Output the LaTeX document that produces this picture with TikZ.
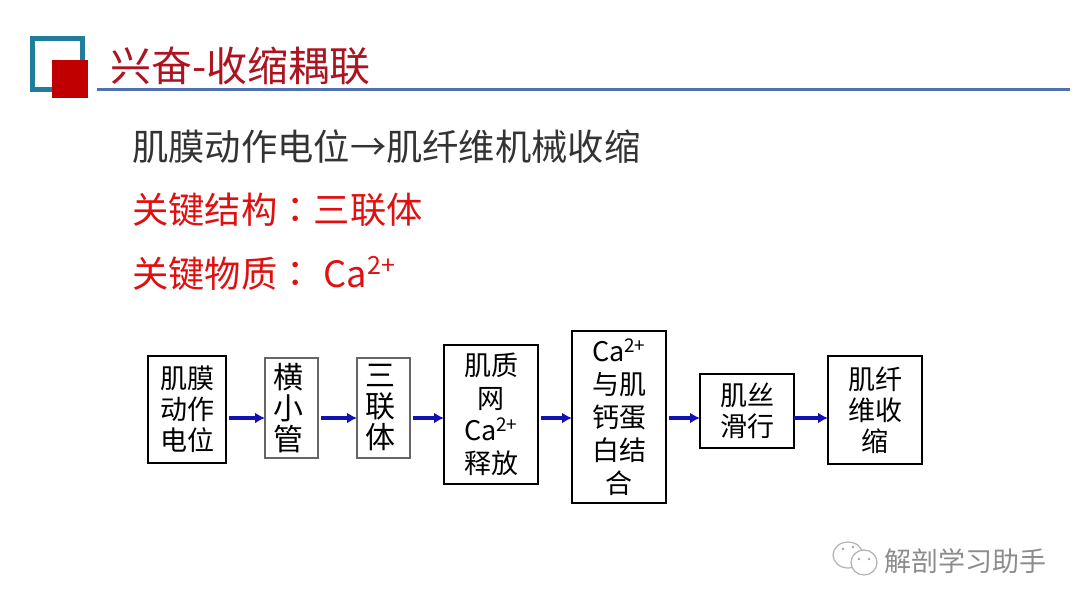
\documentclass[tikz,border=0pt]{standalone}
\usepackage{fontspec}
\setmainfont{Noto Sans CJK SC}
\newfontfamily\colonfont{Noto Sans CJK TC}
\usetikzlibrary{arrows.meta,positioning}
\definecolor{tealframe}{HTML}{1F7F9A}
\definecolor{darkred}{HTML}{C00000}
\definecolor{titlered}{HTML}{AC1420}
\definecolor{rulefblue}{HTML}{4F71B0}
\definecolor{arrblue}{HTML}{1212B4}
\definecolor{bodyred}{HTML}{E01010}
\begin{document}
\begin{tikzpicture}[
x=1pt, y=-1pt,
box/.style={draw, line width=2pt, inner sep=0pt, outer sep=0pt, align=center, font=\fontsize{27}{31}\selectfont},
greybox/.style={box, draw=black!60, font=\fontsize{30}{31}\selectfont},
arr/.style={-{Latex[length=10pt,width=11pt]}, line width=3.5pt, arrblue, shorten <=3pt},
line/.style={anchor=west, inner sep=0pt, font=\fontsize{36.3}{40}\selectfont}
]
\useasboundingbox (0,0) rectangle (1080,608);
% header
\draw[tealframe, line width=4.5pt] (32.5,38.5) rectangle (82.5,89.5);
\fill[darkred] (52,60) rectangle (88,98);
\node[anchor=west, inner sep=0pt, text=titlered, font=\fontsize{41}{44}\selectfont] (title) at (110,66) {兴奋-收缩耦联};
\coordinate (rulea) at (97,89);
\coordinate (ruleb) at (1070,89);
\draw[rulefblue, line width=3pt] (rulea)--(ruleb);
% text lines
\node[line, text=black!80] (line1) at (132,147) {肌膜动作电位→肌纤维机械收缩};
\node[line, text=bodyred] (line2) at (132,210) {关键结构{\colonfont ：}三联体};
\node[line, text=bodyred] (line3) at (132,273) {关键物质{\colonfont ：}\hspace{10pt}Ca\raisebox{.36em}{\fontsize{25}{25}\selectfont 2+}};
% flow
\coordinate (lvl) at (0,418);
\node[box, minimum width=78pt, minimum height=107pt] (potential) at (187,409.5) {肌膜\\动作\\电位};
\node[greybox, minimum width=53pt, minimum height=100pt, right=39pt of potential, yshift=1.5pt] (ttube) {横\kern6pt\\小\kern6pt\\管\kern6pt};
\node[greybox, minimum width=53pt, minimum height=100pt, right=39pt of ttube] (triad) {三\kern6pt\\联\kern6pt\\体\kern6pt};
\node[box, minimum width=94pt, minimum height=139pt, right=34pt of triad, yshift=-6.5pt, font=\fontsize{27}{32.5}\selectfont] (release) {肌质\\网\\Ca\textsuperscript{2+}\\释放};
\node[box, minimum width=94pt, minimum height=172pt, right=34pt of release, yshift=-2.5pt, font=\fontsize{27}{33}\selectfont] (binding) {Ca\textsuperscript{2+}\\与肌\\钙蛋\\白结\\合};
\node[box, minimum width=94pt, minimum height=74pt, right=34pt of binding, yshift=6pt] (sliding) {肌丝\\滑行};
\node[box, minimum width=94pt, minimum height=108pt, right=34pt of sliding, yshift=1pt] (shorten) {肌纤\\维收\\缩};
\draw[arr] (potential.east |- lvl)--(ttube.west |- lvl);
\draw[arr] (ttube.east |- lvl)--(triad.west |- lvl);
\draw[arr] (triad.east |- lvl)--(release.west |- lvl);
\draw[arr] (release.east |- lvl)--(binding.west |- lvl);
\draw[arr] (binding.east |- lvl)--(sliding.west |- lvl);
\draw[arr, shorten <=0pt] (sliding.east |- lvl)--(shorten.west |- lvl);
% watermark
\draw[black!30, fill=white, line width=1.2pt] (848,555) ellipse [x radius=15pt, y radius=13pt];
\draw[black!30, fill=white, line width=1.2pt] (864,562.5) ellipse [x radius=13pt, y radius=12.5pt];
\fill[black!35] (843,549) circle (1.3pt) (853,547) circle (1.3pt) (859,559) circle (1.3pt) (869,559) circle (1.3pt);
\node[anchor=west, inner sep=0pt, text=black!45, font=\fontsize{27}{30}\selectfont] (mark) at (884,561) {解剖学习助手};
\end{tikzpicture}
\end{document}
